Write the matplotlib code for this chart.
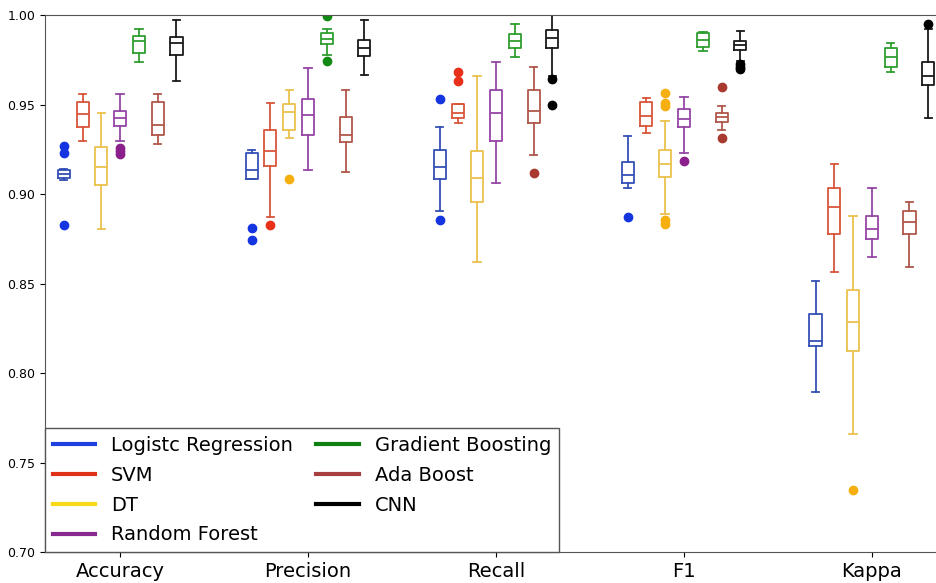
import matplotlib
matplotlib.use("Agg")
from matplotlib import pyplot as plt
from matplotlib.lines import Line2D

metrics = ["Accuracy", "Precision", "Recall", "F1", "Kappa"]
models = ["Logistc Regression", "SVM", "DT", "Random Forest",
          "Gradient Boosting", "Ada Boost", "CNN"]

# five-number summaries, one row per model, one column per metric
med = [[0.9112, 0.9136, 0.9153, 0.9106, 0.8179],
       [0.9445, 0.9242, 0.9451, 0.9434, 0.8929],
       [0.9153, 0.9460, 0.9088, 0.9166, 0.8283],
       [0.9426, 0.9440, 0.9451, 0.9420, 0.8803],
       [0.9855, 0.9866, 0.9856, 0.9860, 0.9764],
       [0.9387, 0.9331, 0.9464, 0.9432, 0.8842],
       [0.9842, 0.9814, 0.9873, 0.9834, 0.9659]]
q1 = [[0.9088, 0.9082, 0.9086, 0.9065, 0.8151],
      [0.9373, 0.9156, 0.9423, 0.9382, 0.8775],
      [0.9049, 0.9356, 0.8957, 0.9093, 0.8125],
      [0.9382, 0.9331, 0.9296, 0.9373, 0.8749],
      [0.9789, 0.9838, 0.9814, 0.9823, 0.9708],
      [0.9333, 0.9294, 0.9398, 0.9402, 0.8775],
      [0.9777, 0.9771, 0.9814, 0.9808, 0.9607]]
q3 = [[0.9134, 0.9231, 0.9244, 0.9180, 0.8333],
      [0.9516, 0.9358, 0.9503, 0.9516, 0.9032],
      [0.9261, 0.9501, 0.9242, 0.9246, 0.8464],
      [0.9464, 0.9529, 0.9581, 0.9473, 0.8879],
      [0.9883, 0.9898, 0.9894, 0.9898, 0.9814],
      [0.9516, 0.9432, 0.9581, 0.9454, 0.8907],
      [0.9879, 0.9860, 0.9916, 0.9856, 0.9736]]
whislo = [[0.9078, 0.9082, 0.8905, 0.9032, 0.7892],
          [0.9296, 0.8872, 0.9398, 0.9339, 0.8566],
          [0.8803, 0.9315, 0.8620, 0.8887, 0.7659],
          [0.9296, 0.9136, 0.9061, 0.9231, 0.8646],
          [0.9737, 0.9777, 0.9764, 0.9801, 0.9683],
          [0.9281, 0.9121, 0.9218, 0.9361, 0.8594],
          [0.9633, 0.9665, 0.9659, 0.9745, 0.9426]]
whishi = [[0.9138, 0.9249, 0.9373, 0.9326, 0.8516],
          [0.9557, 0.9508, 0.9503, 0.9538, 0.9166],
          [0.9451, 0.9581, 0.9659, 0.9408, 0.8877],
          [0.9557, 0.9706, 0.9737, 0.9542, 0.9032],
          [0.9920, 0.9920, 0.9948, 0.9907, 0.9842],
          [0.9557, 0.9581, 0.9711, 0.9495, 0.8957],
          [0.9972, 0.9972, 1.0020, 0.9914, 0.9925]]
fliers = [[[0.927, 0.9231, 0.8827], [0.8812, 0.8741], [0.9529, 0.8855], [0.8872], []],
          [[], [0.8827], [0.9683, 0.9631], [], []],
          [[], [0.9084], [], [0.9563, 0.951, 0.949, 0.8855, 0.8832], [0.7346]],
          [[0.926, 0.924, 0.9225], [], [], [0.9184], []],
          [[], [0.9994, 0.9743], [], [], []],
          [[], [], [0.9116], [0.9596, 0.9311], []],
          [[], [], [0.9642, 0.9497], [0.9728, 0.9712, 0.9698], [0.9948]]]

box_colors = ["#3550b5", "#d9553a", "#ebc24e", "#9646a6", "#2f9e2f", "#b0574a", "#1a1a1a"]
dot_colors = ["#1535e0", "#e8301a", "#f5b010", "#8b1f8b", "#138a13", "#a83a30", "black"]
leg_colors = ["#2040e0", "#e03218", "#f8d818", "#882890", "#108010", "#a84040", "black"]

fig = plt.figure(figsize=(9.36, 5.83), dpi=100)
ax = fig.add_axes([0.048, 0.053, 0.955, 0.921])

for m in range(len(models)):
    stats = []
    for k in range(len(metrics)):
        stats.append(dict(med=med[m][k], q1=q1[m][k], q3=q3[m][k],
                          whislo=whislo[m][k], whishi=whishi[m][k],
                          fliers=fliers[m][k]))
    pos = [k + (m - 3) * 0.1 for k in range(len(metrics))]
    c = box_colors[m]
    ax.bxp(stats, positions=pos, widths=0.064, capwidths=0.04,
           manage_ticks=False,
           boxprops=dict(color=c, linewidth=1.3),
           whiskerprops=dict(color=c, linewidth=1.3),
           capprops=dict(color=c, linewidth=1.3),
           medianprops=dict(color=c, linewidth=1.3),
           flierprops=dict(marker="o", markersize=6, markerfacecolor=dot_colors[m],
                           markeredgecolor=dot_colors[m]))

ax.set_xlim(-0.4, 4.356)
ax.set_ylim(0.70, 1.00)
ax.set_xticks(range(len(metrics)))
ax.set_xticklabels(metrics, fontsize=14)
ax.set_yticks([0.70, 0.75, 0.80, 0.85, 0.90, 0.95, 1.00])
ax.set_yticklabels(["%.2f" % v for v in [0.70, 0.75, 0.80, 0.85, 0.90, 0.95, 1.00]], fontsize=9)
for s in ax.spines.values():
    s.set_color("#555555")
ax.spines["right"].set_visible(False)

handles = [Line2D([0], [0], color=leg_colors[i], linewidth=3) for i in range(len(models))]
leg = ax.legend(handles, models, loc="lower left", ncol=2, fontsize=14,
                borderaxespad=0, fancybox=False, framealpha=1,
                handlelength=2.2, columnspacing=1.2, labelspacing=0.55)
leg.get_frame().set_edgecolor("#555555")

fig.savefig("out.png", dpi=100)
